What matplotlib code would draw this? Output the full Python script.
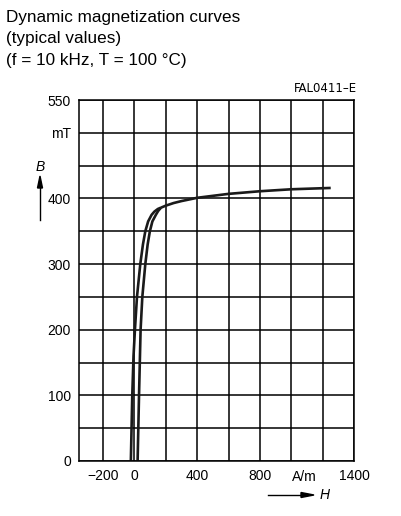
import matplotlib.pyplot as plt

plt.rcParams['font.family'] = ['Liberation Sans', 'DejaVu Sans']

# descending branch (left), H in A/m, B in mT
h_down = [-22, -13, -5, 4, 17, 38, 55, 70, 88, 110, 128, 150, 170]
b_down = [0, 100, 160, 200, 250, 300, 330, 350, 365, 375, 380, 384, 386]
# ascending branch (right)
h_up = [21, 30, 36, 40, 51, 70, 85, 99, 115, 137, 152, 170]
b_up = [0, 100, 160, 200, 250, 300, 330, 350, 365, 375, 381, 386]
# common upper part
h_top = [170, 200, 250, 300, 400, 500, 600, 800, 1000, 1250]
b_top = [386, 389, 393, 396, 401, 404, 407, 411, 414, 416]

x_grid = list(range(-200, 1401, 200))
x_labels = ['\u2212200', '0', '', '400', '', '800', '', '', '1400']
y_grid = list(range(0, 551, 50))
y_labels = ['0', '', '100', '', '200', '', '300', '', '400', '', 'mT', '550']

fig = plt.figure(figsize=(4.02, 5.16), dpi=100)
ax = fig.add_axes([0.1973, 0.1066, 0.684, 0.6996])

for hh, bb in [(h_down, b_down), (h_up, b_up), (h_top, b_top)]:
    ax.plot(hh, bb, color='#1a1a1a', lw=1.9, solid_capstyle='butt',
            solid_joinstyle='round')

ax.set_xlim(-350, 1400)
ax.set_ylim(0, 550)
ax.set_xticks(x_grid, labels=x_labels)
ax.set_yticks(y_grid, labels=y_labels)
ax.tick_params(length=0, labelsize=10, colors='black', pad=6)
ax.grid(True, color='black', lw=1.1)
ax.set_axisbelow(True)
for s in ax.spines.values():
    s.set_linewidth(1.1)

ax.text(1080, -14, 'A/m', ha='center', va='top', fontsize=10)

# axis name arrows
fig.text(40 / 402, 1 - 167 / 516, 'B', style='italic', fontsize=10,
         ha='center', va='center')
fig.add_artist(plt.Line2D([40 / 402, 40 / 402], [1 - 220 / 516, 1 - 186 / 516],
                          color='black', lw=1.0))
fig.add_artist(plt.Polygon([[37.5 / 402, 1 - 188 / 516], [42.5 / 402, 1 - 188 / 516],
                            [40 / 402, 1 - 176 / 516]], color='black'))
fig.text(325 / 402, 1 - 495 / 516, 'H', style='italic', fontsize=10,
         ha='center', va='center')
fig.add_artist(plt.Line2D([268 / 402, 303 / 402], [1 - 495 / 516, 1 - 495 / 516],
                          color='black', lw=1.0))
fig.add_artist(plt.Polygon([[301 / 402, 1 - 492.5 / 516], [301 / 402, 1 - 497.5 / 516],
                            [314 / 402, 1 - 495 / 516]], color='black'))

fig.text(357 / 402, 1 - 88 / 516, 'FAL0411\u2013E', ha='right', va='center',
         fontsize=8.5, family='DejaVu Sans')

fig.text(6 / 402, 1 - 17 / 516, 'Dynamic magnetization curves', fontsize=12.3,
         ha='left', va='center')
fig.text(6 / 402, 1 - 39 / 516, '(typical values)', fontsize=12.3,
         ha='left', va='center')
fig.text(6 / 402, 1 - 61 / 516, '(f = 10 kHz, T = 100 \u00b0C)', fontsize=12.3,
         ha='left', va='center')

fig.savefig('out.png', dpi=100)
